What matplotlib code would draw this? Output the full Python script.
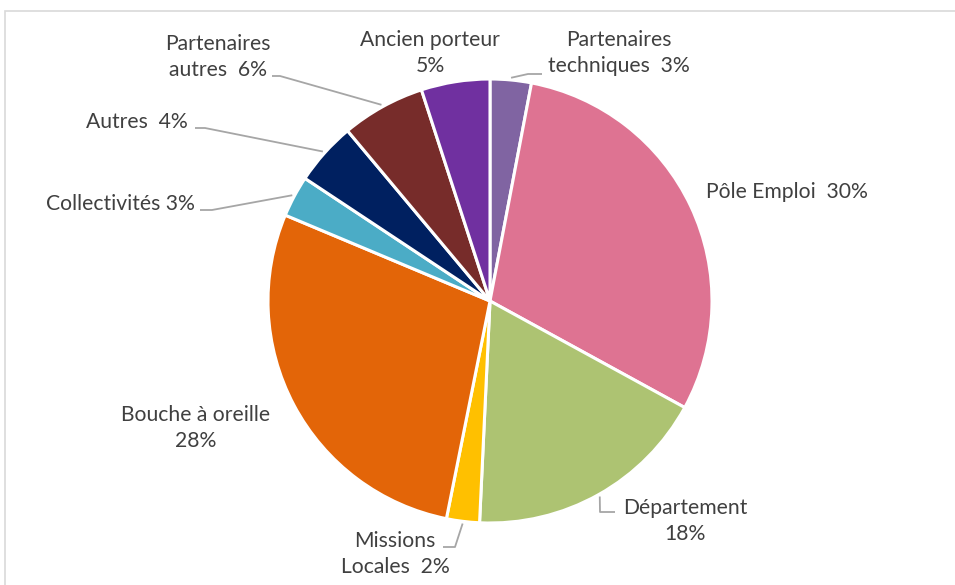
import numpy as np
import matplotlib
matplotlib.use('Agg')
import matplotlib.pyplot as plt
from matplotlib.patches import Rectangle

plt.rcParams['font.family'] = ['Lato', 'DejaVu Sans']

# slices, clockwise from the top
names = ['Partenaires techniques', 'Pôle Emploi', 'Département', 'Missions Locales',
         'Bouche à oreille', 'Collectivités', 'Autres', 'Partenaires autres', 'Ancien porteur']
values = [3.0, 30.0, 17.8, 2.4, 28.2, 3.0, 4.6, 6.1, 5.0]
pct_labels = ['3%', '30%', '18%', '2%', '28%', '3%', '4%', '6%', '5%']
colors = ['#8064A2', '#DE7392', '#ADC372', '#FFC000', '#E36508',
          '#4BACC6', '#002060', '#772C2A', '#7030A0']

W, H = 955, 585
txt_col = '#404040'
line_col = '#A6A6A6'
fs = 15.2

def P(x, y):
    # pixel coords (top-left origin) -> data coords
    return (x, H - y)

fig = plt.figure(figsize=(W / 100, H / 100), dpi=100)
ax = fig.add_axes([0, 0, 1, 1])

cx, cy = 490, 301
R = 222
wedges, _ = ax.pie(values, colors=colors, startangle=90, counterclock=False,
                   center=P(cx, cy), radius=R, normalize=True,
                   wedgeprops=dict(edgecolor='white', linewidth=2.2))
ax.set_xlim(0, W)
ax.set_ylim(0, H)
ax.set_aspect('auto')
ax.axis('off')

ax.add_patch(Rectangle(P(5, 600), 1000, 589, fill=False, ec='#D9D9D9', lw=1.2))

def edge_pt(w, k=1.0):
    a = np.deg2rad((w.theta1 + w.theta2) / 2)
    return (w.center[0] + R * k * np.cos(a), w.center[1] + R * k * np.sin(a))

# label text: (text, x, y) in pixel coords, centre of block
lab = [
    ('Partenaires\ntechniques  ' + pct_labels[0], 619, 53),
    ('Pôle Emploi  ' + pct_labels[1], 787, 192),
    ('Département\n' + pct_labels[2], 685, 521),
    ('Missions\nLocales  ' + pct_labels[3], 395, 554),
    ('Bouche à oreille\n' + pct_labels[4], 196, 428),
    ('Collectivités ' + pct_labels[5], 120, 204),
    ('Autres  ' + pct_labels[6], 137, 122),
    ('Partenaires\nautres  ' + pct_labels[7], 218, 57),
    ('Ancien porteur\n' + pct_labels[8], 430, 53),
]
for t, x, y in lab:
    ax.text(*P(x, y), t, ha='center', va='center', fontsize=fs, color=txt_col,
            linespacing=1.42)

# leader lines: elbow point then end point, pixel coords
leaders = {
    0: [(528, 74), (542, 74)],
    2: [(600, 512), (615, 512)],
    3: [(455, 547), (443, 547)],
    5: [(212, 210), (200, 210)],
    6: [(205, 128), (195, 128)],
    7: [(280, 76), (272, 76)],
}
for i, pts in leaders.items():
    x0, y0 = edge_pt(wedges[i], 1.01)
    xs = [x0] + [P(*p)[0] for p in pts]
    ys = [y0] + [P(*p)[1] for p in pts]
    ax.plot(xs, ys, color=line_col, lw=1.3, solid_capstyle='butt')

fig.savefig('out.png', dpi=100)
